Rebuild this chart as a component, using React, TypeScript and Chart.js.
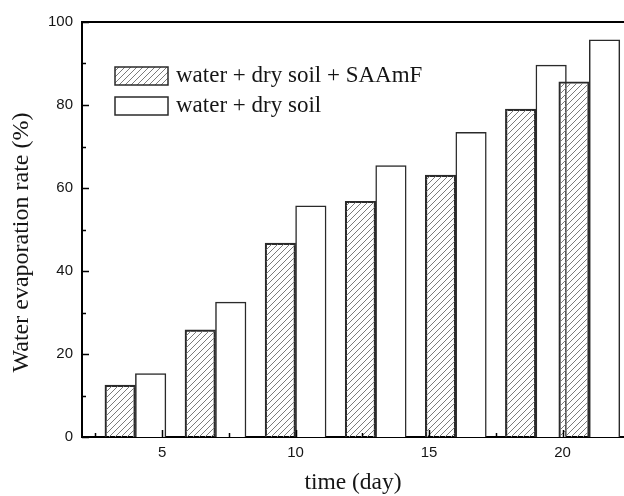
import React, { useEffect, useRef } from 'react';
import { Chart, registerables } from 'chart.js';

Chart.register(...registerables);

// ---- data ----
const DAYS = [4, 7, 10, 13, 16, 19, 21];
const SAAMF = [12.5, 25.8, 46.7, 56.8, 63.1, 79.0, 85.6];
const DRY_SOIL = [15.3, 32.5, 55.7, 65.4, 73.4, 89.6, 95.7];
const SERIES_LABELS = ['water + dry soil + SAAmF', 'water + dry soil'];
const X_TICKS = [5, 10, 15, 20];
const X_MINOR_TICKS = [2.5, 7.5, 12.5, 17.5];
const Y_TICKS = [0, 20, 40, 60, 80, 100];
const Y_MINOR_TICKS = [10, 30, 50, 70, 90];
const X_TITLE = 'time (day)';
const Y_TITLE = 'Water evaporation rate (%)';

const SERIF = '"Liberation Serif", "Times New Roman", serif';
const SANS = '"Liberation Sans", Arial, sans-serif';
const TEXT = '#151515';

function makeHatch(): CanvasPattern | string {
  const s = 6;
  const c = document.createElement('canvas');
  c.width = s;
  c.height = s;
  const g = c.getContext('2d');
  if (!g) return '#ccc';
  g.strokeStyle = '#7c7c7c';
  g.lineWidth = 1;
  g.beginPath();
  g.moveTo(0, s);
  g.lineTo(s, 0);
  g.moveTo(-1, 1);
  g.lineTo(1, -1);
  g.moveTo(s - 1, s + 1);
  g.lineTo(s + 1, s - 1);
  g.stroke();
  return g.createPattern(c, 'repeat') || '#ccc';
}

const framePlugin = {
  id: 'frameAndExtras',
  afterDraw(chart: any) {
    const { ctx, chartArea } = chart;
    const { left, right, top, bottom } = chartArea;
    const xs = chart.scales.x;
    const ys = chart.scales.y;
    ctx.save();
    // top frame line
    ctx.strokeStyle = '#000';
    ctx.lineWidth = 2;
    ctx.beginPath();
    ctx.moveTo(left - 1, top);
    ctx.lineTo(right, top);
    ctx.stroke();
    // inward ticks
    ctx.lineWidth = 1.5;
    ctx.beginPath();
    X_TICKS.forEach((v) => {
      const p = Math.round(xs.getPixelForValue(v)) + 0.5;
      ctx.moveTo(p, bottom);
      ctx.lineTo(p, bottom - 7);
    });
    X_MINOR_TICKS.forEach((v) => {
      const p = Math.round(xs.getPixelForValue(v)) + 0.5;
      ctx.moveTo(p, bottom);
      ctx.lineTo(p, bottom - 4);
    });
    Y_TICKS.forEach((v) => {
      const p = Math.round(ys.getPixelForValue(v)) + 0.5;
      ctx.moveTo(left, p);
      ctx.lineTo(left + 7, p);
    });
    Y_MINOR_TICKS.forEach((v) => {
      const p = Math.round(ys.getPixelForValue(v)) + 0.5;
      ctx.moveTo(left, p);
      ctx.lineTo(left + 4, p);
    });
    ctx.stroke();

    // y axis title (rotated)
    const yTitle = ys.options.title.text;
    ctx.fillStyle = TEXT;
    ctx.font = `24px ${SERIF}`;
    ctx.translate(28, (top + bottom) / 2 + 13);
    ctx.rotate(-Math.PI / 2);
    ctx.textAlign = 'center';
    ctx.textBaseline = 'alphabetic';
    ctx.fillText(yTitle, 0, 0);
    ctx.restore();

    // legend inside plot
    ctx.save();
    const bx = left + 33;
    const bw = 53;
    const bh = 18;
    chart.data.datasets.forEach((ds: any, i: number) => {
      const by = top + 45 + i * 30;
      ctx.fillStyle = ds.backgroundColor;
      ctx.fillRect(bx, by, bw, bh);
      ctx.strokeStyle = ds.borderColor;
      ctx.lineWidth = 1.5;
      ctx.strokeRect(bx, by, bw, bh);
      ctx.fillStyle = TEXT;
      ctx.font = `23px ${SERIF}`;
      ctx.textAlign = 'left';
      ctx.textBaseline = 'alphabetic';
      ctx.fillText(ds.label, bx + bw + 8, by + 14.5);
    });
    ctx.restore();
  },
};

export default function App() {
  const ref = useRef<HTMLCanvasElement>(null);
  useEffect(() => {
    const canvas = ref.current;
    if (!canvas) return;
    const hatch = makeHatch();
    const chart = new Chart(canvas, {
      type: 'bar',
      data: {
        datasets: [
          {
            label: SERIES_LABELS[0],
            data: DAYS.map((d, i) => ({ x: d, y: SAAMF[i] })),
            backgroundColor: hatch as any,
            borderColor: '#2a2a2a',
            borderWidth: 1.5,
            barThickness: 30.5,
          },
          {
            label: SERIES_LABELS[1],
            data: DAYS.map((d, i) => ({ x: d, y: DRY_SOIL[i] })),
            backgroundColor: '#ffffff',
            borderColor: '#2a2a2a',
            borderWidth: 1.5,
            barThickness: 30.5,
          },
        ],
      } as any,
      options: {
        responsive: false,
        animation: false,
        devicePixelRatio: 1,
        layout: { padding: { top: 22, left: 0, right: 0, bottom: 0 } },
        plugins: {
          legend: { display: false },
          tooltip: { enabled: false },
        },
        scales: {
          x: {
            type: 'linear',
            min: 2,
            max: 22.3,
            offset: false,
            grid: { display: false, drawTicks: false },
            border: { display: true, color: '#000', width: 2 },
            afterBuildTicks: (s: any) => {
              s.ticks = X_TICKS.map((v) => ({ value: v }));
            },
            afterFit: (s: any) => {
              s.height = 59;
            },
            ticks: {
              font: { family: SANS, size: 15 },
              color: TEXT,
              padding: 7,
              maxRotation: 0,
              autoSkip: false,
            },
            title: {
              display: true,
              text: X_TITLE,
              font: { family: SERIF, size: 23.5, lineHeight: 1.1 },
              color: TEXT,
              padding: 0,
            },
          },
          y: {
            type: 'linear',
            min: 0,
            max: 100,
            grid: { display: false, drawTicks: false },
            border: { display: true, color: '#000', width: 2 },
            afterBuildTicks: (s: any) => {
              s.ticks = Y_TICKS.map((v) => ({ value: v }));
            },
            afterFit: (s: any) => {
              s.width = 82;
            },
            ticks: {
              font: { family: SANS, size: 15 },
              color: TEXT,
              padding: 9,
            },
            title: { display: false, text: Y_TITLE },
          },
        },
      } as any,
      plugins: [framePlugin],
    });
    return () => chart.destroy();
  }, []);

  return (
    <div style={{ position: 'fixed', left: 0, top: 0, width: 624, height: 496, overflow: 'hidden', background: '#fff' }}>
      <canvas ref={ref} width={624} height={496} style={{ display: 'block' }} />
    </div>
  );
}
